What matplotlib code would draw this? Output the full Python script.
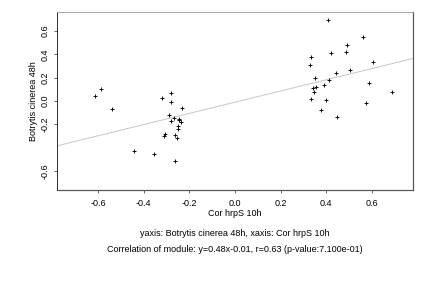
import matplotlib
matplotlib.use("Agg")
import matplotlib.pyplot as plt
import numpy as np

plt.rcParams['font.family'] = ['Liberation Sans', 'DejaVu Sans']

x_vals = [-0.586, -0.613, -0.538, -0.279, -0.318, -0.280, -0.231, -0.289, -0.266, -0.280,
          -0.246, -0.244, -0.235, -0.248, -0.248, -0.308, -0.312, -0.263, -0.252, -0.441,
          -0.357, -0.261,
          0.408, 0.562, 0.492, 0.422, 0.487, 0.334, 0.330, 0.605, 0.443, 0.505,
          0.349, 0.414, 0.391, 0.357, 0.343, 0.347, 0.588, 0.689, 0.334, 0.397,
          0.575, 0.378, 0.448]
y_vals = [0.100, 0.043, -0.069, 0.069, 0.023, -0.009, -0.063, -0.123, -0.149, -0.171,
          -0.154, -0.160, -0.183, -0.217, -0.240, -0.283, -0.300, -0.291, -0.317, -0.428,
          -0.454, -0.514,
          0.694, 0.548, 0.480, 0.411, 0.420, 0.377, 0.308, 0.334, 0.243, 0.266,
          0.197, 0.180, 0.137, 0.120, 0.109, 0.077, 0.157, 0.077, 0.017, 0.009,
          -0.017, -0.077, -0.137]
slope = 0.48
intercept = -0.01
xticks = [-0.6, -0.4, -0.2, 0.0, 0.2, 0.4, 0.6]
yticks = [-0.6, -0.2, 0.0, 0.2, 0.4, 0.6]
xlabel = "Cor hrpS 10h"
ylabel = "Botrytis cinerea 48h"
line1 = "yaxis: Botrytis cinerea 48h, xaxis: Cor hrpS 10h"
line2 = "Correlation of module: y=0.48x-0.01, r=0.63 (p-value:7.100e-01)"

fs = 9
fig = plt.figure(figsize=(6, 4), dpi=72)
ax = fig.add_axes([57 / 432, 1 - 190 / 288, (413 - 57) / 432, (190 - 12) / 288])
xlim = (-0.78, 0.78)
ylim = (-0.763, 0.763)
ax.set_xlim(*xlim)
ax.set_ylim(*ylim)

xs = np.array(xlim)
ax.plot(xs, slope * xs + intercept, color='#c8c8c8', lw=1.0, zorder=1)
ax.scatter(x_vals, y_vals, marker='+', s=22, color='black', linewidths=0.9, zorder=2)

ax.set_xticks(xticks)
ax.set_xticklabels([f"{t:.1f}" for t in xticks])
ax.set_yticks(yticks)
ax.set_yticklabels([f"{t:.1f}" for t in yticks], rotation=90, va='center')
ax.tick_params(axis='both', labelsize=fs, length=3, width=0.8, color='#444444')
ax.tick_params(axis='x', pad=6)
ax.tick_params(axis='y', pad=4)

ax.spines['top'].set_color('#999999')
for s in ['right', 'bottom']:
    ax.spines[s].set_color('#555555')
    ax.spines[s].set_linewidth(1.2)
ax.spines['left'].set_color('black')

ax.set_xlabel(xlabel, fontsize=fs, labelpad=1)
ax.set_ylabel(ylabel, fontsize=fs, labelpad=3)

fig.text(235 / 432, 1 - 234 / 288, line1, ha='center', va='center', fontsize=fs)
fig.text(235 / 432, 1 - 250 / 288, line2, ha='center', va='center', fontsize=fs)

fig.savefig("out.png", dpi=72)
